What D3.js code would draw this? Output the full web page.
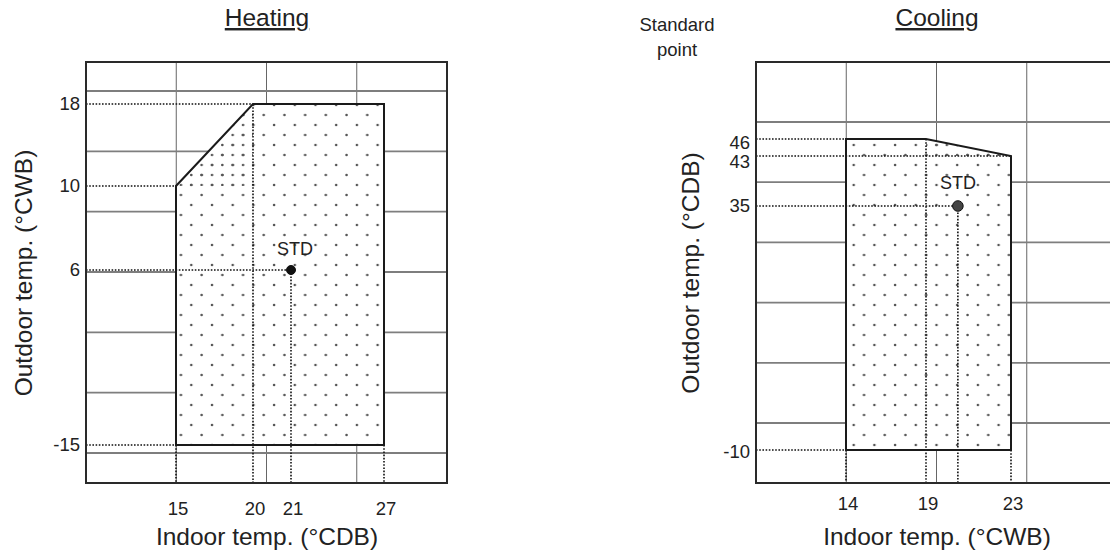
<!DOCTYPE html>
<html lang="en">
<head>
<meta charset="UTF-8">
<title>Operating range - Heating / Cooling</title>
<script src="https://d3js.org/d3.v7.min.js"></script>
<style>
  body { margin: 0; background: #fff; }
  svg { display: block; font-family: "Liberation Sans", Arial, sans-serif; }
  text { fill: #222; }
  .grid-h { stroke: #7e7e7e; stroke-width: 1.8; }
  .grid-v { stroke: #666; stroke-width: 1; }
  .guide { stroke: #111; stroke-width: 1.6; stroke-dasharray: 1.6 1.6; fill: none; }
  .zone { fill: none; stroke: #1a1a1a; stroke-width: 2; stroke-linejoin: miter; }
  .frame { fill: none; stroke: #2a2a2a; stroke-width: 2; }
</style>
</head>
<body>
<svg width="1110" height="553"></svg>
<script>
// Heating range: indoor °CDB vs outdoor °CWB
const heatTicksX = [15, 20, 21, 27];
const heatTicksY = [-15, 6, 10, 18];
const heatZone = [[15, -15], [15, 10], [20, 18], [27, 18], [27, -15]];
const heatDense = [[15, 10], [20, 18], [20, 10]];
const heatStd = [21, 6];
const heatGuidesH = [[18, 20], [10, 15], [6, 21], [-15, 15]];   // [outdoor, run to indoor]
const heatGuidesV = [[20, 18], [21, 6], [15, -15], [27, -15]];  // [indoor, drop from outdoor]

// Cooling range: indoor °CWB vs outdoor °CDB
const coolTicksX = [14, 19, 23];
const coolTicksY = [-10, 35, 43, 46];
const coolZone = [[14, -10], [14, 46], [19, 46], [23, 43], [23, -10]];
const coolDense = [[19, 46], [23, 43], [19, 43]];
const coolStd = [20.5, 35];
const coolGuidesH = [[46, 14], [43, 23], [35, 20.5], [-10, 14]];
const coolGuidesV = [[19, 46], [20.5, 35], [14, -10], [23, -10]];

const svg = d3.select("svg");
const defs = svg.append("defs");

function dotPattern(id, w, h, pts) {
  const p = defs.append("pattern")
    .attr("id", id)
    .attr("patternUnits", "userSpaceOnUse")
    .attr("width", w)
    .attr("height", h);
  pts.forEach(([cx, cy]) => p.append("circle")
    .attr("cx", cx).attr("cy", cy).attr("r", 1.3).attr("fill", "#555"));
}
dotPattern("dots", 20.7, 20, [[5, 5], [15.35, 15]]);
dotPattern("dense", 10.35, 10, [[5, 5]]);

function drawPanel(o) {
  const g = svg.append("g");
  const f = o.frame;
  const x = d3.scaleLinear().domain(o.ticksX).range(o.rangeX);
  const y = d3.scaleLinear().domain(o.ticksY).range(o.rangeY);
  const line = d3.line().x(d => x(d[0])).y(d => y(d[1]));

  // background grid
  const gx = d3.scaleLinear().domain([0, 4]).range([f.x0, f.x1]);
  g.selectAll(".grid-v").data(d3.range(1, 4)).join("line")
    .attr("class", "grid-v")
    .attr("x1", gx).attr("x2", gx)
    .attr("y1", f.y0).attr("y2", f.y1);
  const gy = d3.scaleLinear().domain([0, o.gridRows]).range(o.gridY);
  g.selectAll(".grid-h").data(d3.range(0, o.gridRows + 1)).join("line")
    .attr("class", "grid-h")
    .attr("x1", f.x0).attr("x2", f.x1)
    .attr("y1", gy).attr("y2", gy);

  // operating zone
  g.append("path").attr("d", line(o.zone) + "Z").attr("fill", "#fff");
  g.append("path").attr("d", line(o.zone) + "Z").attr("fill", "url(#dots)");
  g.append("path").attr("d", line(o.dense) + "Z").attr("fill", "url(#dense)");

  // dotted guides
  g.selectAll(".gh").data(o.guidesH).join("line")
    .attr("class", "guide")
    .attr("x1", f.x0).attr("x2", d => x(d[1]))
    .attr("y1", d => y(d[0])).attr("y2", d => y(d[0]));
  g.selectAll(".gv").data(o.guidesV).join("line")
    .attr("class", "guide")
    .attr("x1", d => x(d[0])).attr("x2", d => x(d[0]))
    .attr("y1", d => y(d[1])).attr("y2", f.y1);

  g.append("path").attr("class", "zone").attr("d", line(o.zone) + "Z");
  g.append("rect").attr("class", "frame")
    .attr("x", f.x0).attr("y", f.y0)
    .attr("width", f.x1 - f.x0).attr("height", f.y1 - f.y0);

  // standard point
  g.append("circle")
    .attr("cx", x(o.std[0])).attr("cy", y(o.std[1]))
    .attr("r", o.stdR).attr("fill", o.stdFill).attr("stroke", "#111").attr("stroke-width", 1);
  g.append("text")
    .attr("x", x(o.std[0]) + o.stdDx).attr("y", y(o.std[1]) + o.stdDy)
    .attr("text-anchor", "middle").attr("font-size", 18)
    .text("STD");

  // tick labels
  const nudge = o.nudgeY || {};
  g.selectAll(".ty").data(o.ticksY).join("text")
    .attr("x", f.x0 - 6).attr("y", d => y(d) + (nudge[d] || 0)).attr("dy", "0.35em")
    .attr("text-anchor", "end").attr("font-size", 18.5)
    .text(d => d);
  g.selectAll(".tx").data(o.ticksX).join("text")
    .attr("x", d => x(d) + 2).attr("y", o.tickXBase)
    .attr("text-anchor", "middle").attr("font-size", 18.5)
    .text(d => d);

  // titles
  g.append("text")
    .attr("x", o.titleX).attr("y", 26)
    .attr("text-anchor", "middle").attr("font-size", 24.5)
    .style("text-decoration", "underline")
    .text(o.title);
  g.append("text")
    .attr("x", o.titleX).attr("y", 545)
    .attr("text-anchor", "middle").attr("font-size", 24.5)
    .text(o.xLabel);
  g.append("text")
    .attr("transform", `translate(${o.yLabelX},273) rotate(-90)`)
    .attr("text-anchor", "middle").attr("font-size", 24.5)
    .text(o.yLabel);
}

drawPanel({
  title: "Heating", titleX: 267,
  xLabel: "Indoor temp. (°CDB)", yLabel: "Outdoor temp. (°CWB)", yLabelX: 32,
  frame: { x0: 86, y0: 62, x1: 447, y1: 483 },
  gridRows: 6, gridY: [91, 453],
  ticksX: heatTicksX, rangeX: [176, 253, 291, 384],
  ticksY: heatTicksY, rangeY: [445, 270, 186, 104],
  zone: heatZone, dense: heatDense,
  guidesH: heatGuidesH, guidesV: heatGuidesV,
  std: heatStd, stdR: 4.5, stdFill: "#111", stdDx: 4, stdDy: -15,
  tickXBase: 515
});

drawPanel({
  title: "Cooling", titleX: 937,
  xLabel: "Indoor temp. (°CWB)", yLabel: "Outdoor temp. (°CDB)", yLabelX: 699,
  frame: { x0: 756, y0: 62, x1: 1117, y1: 483 },
  gridRows: 5, gridY: [122, 423],
  ticksX: coolTicksX, rangeX: [846, 926, 1011],
  ticksY: coolTicksY, rangeY: [450, 206, 156, 139],
  nudgeY: { 46: 4, 43: 6, "-10": 2 },
  zone: coolZone, dense: coolDense,
  guidesH: coolGuidesH, guidesV: coolGuidesV,
  std: coolStd, stdR: 5.3, stdFill: "#444", stdDx: 0, stdDy: -17,
  tickXBase: 510
});

svg.append("text")
  .attr("x", 677).attr("text-anchor", "middle").attr("font-size", 18.5)
  .selectAll("tspan").data(["Standard", "point"]).join("tspan")
  .attr("x", 677).attr("y", (d, i) => 31 + i * 24.5)
  .text(d => d);
</script>
</body>
</html>
